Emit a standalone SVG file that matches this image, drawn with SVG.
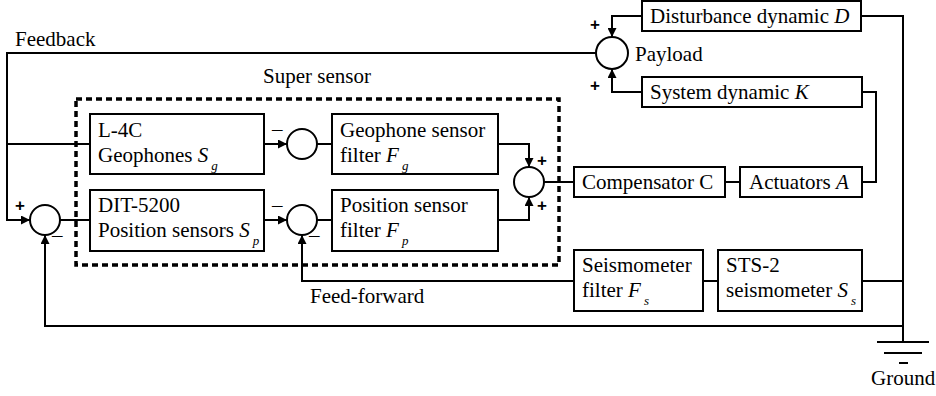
<svg xmlns="http://www.w3.org/2000/svg" width="936" height="396" viewBox="0 0 936 396">
<defs>
<marker id="ah" viewBox="0 0 10 10" refX="10" refY="5" markerWidth="9" markerHeight="9" markerUnits="userSpaceOnUse" orient="auto">
<path d="M0,0 L10,5 L0,10 Z" fill="#000"/>
</marker>
</defs>
<style>
.b{fill:#fff;stroke:#000;stroke-width:2}
.c{fill:#fff;stroke:#000;stroke-width:2}
.w{fill:none;stroke:#000;stroke-width:2}
.a{fill:none;stroke:#000;stroke-width:2;marker-end:url(#ah)}
.t{font-family:'Liberation Serif','DejaVu Serif',serif;font-size:21px;fill:#000}
.i{font-style:italic}
.s{font-size:13px;font-style:italic}
.p{font-family:'Liberation Sans',sans-serif;font-size:17px;font-weight:bold}
</style>
<rect width="936" height="396" fill="#fff"/>
<g id="connectors">
<path class="a" d="M596,53 H7 V220 H30"/>
<path class="w" d="M7,144 H90"/>
<path class="w" d="M60,220 H90"/>
<path class="a" d="M264,144 H287"/>
<path class="w" d="M317,144 H332"/>
<path class="a" d="M264,220 H287"/>
<path class="w" d="M317,220 H332"/>
<path class="a" d="M498,144 H529 V167"/>
<path class="a" d="M498,220 H529 V197"/>
<path class="w" d="M544,182 H574"/>
<path class="w" d="M725,182 H740"/>
<path class="w" d="M862,182 H876 V92 H862"/>
<path class="a" d="M642,92 H612 V69"/>
<path class="a" d="M642,16 H612 V37"/>
<path class="w" d="M861,16 H903 V342"/>
<path class="a" d="M574,281 H302 V235"/>
<path class="w" d="M703,281 H718"/>
<path class="w" d="M862,281 H903"/>
<path class="a" d="M903,326 H45 V235"/>
<path class="w" d="M877,342 H929 M884,353 H922 M899,363 H908"/>
</g>
<g class="t" font-family="Liberation Serif, DejaVu Serif, serif">
<g id="supersensor">
<rect x="76" y="99" width="483" height="166" fill="none" stroke="#000" stroke-width="3.5" stroke-dasharray="6 4"/>
<text x="263" y="83">Super sensor</text>
</g>
<g id="sumLeft"><circle class="c" cx="45" cy="220" r="15"/><text class="p" x="15" y="211">+</text><text x="52" y="242">–</text></g>
<g id="sumGeo"><circle class="c" cx="302" cy="144" r="15"/><text x="272" y="136">–</text></g>
<g id="sumPos"><circle class="c" cx="302" cy="220" r="15"/><text x="272" y="212">–</text><text x="309" y="242">–</text></g>
<g id="sumSS"><circle class="c" cx="529" cy="182" r="15"/><text class="p" x="537" y="166">+</text><text class="p" x="537" y="211">+</text></g>
<g id="payload"><circle class="c" cx="612" cy="53" r="16"/><text x="635" y="61">Payload</text><text class="p" x="590" y="30">+</text><text class="p" x="590" y="91">+</text></g>
<g id="geophones"><rect class="b" x="90" y="114" width="174" height="60"/><text x="98" y="137">L-4C</text><text x="98" y="162">Geophones <tspan class="i">S</tspan><tspan class="s" dx="3" dy="8">g</tspan></text></g>
<g id="dit"><rect class="b" x="90" y="190" width="174" height="61"/><text x="98" y="212">DIT-5200</text><text x="98" y="237">Position sensors <tspan class="i">S</tspan><tspan class="s" dx="3" dy="8">p</tspan></text></g>
<g id="geofilter"><rect class="b" x="332" y="114" width="166" height="60"/><text x="340" y="137">Geophone sensor</text><text x="340" y="162">filter <tspan class="i">F</tspan><tspan class="s" dx="3" dy="8">g</tspan></text></g>
<g id="posfilter"><rect class="b" x="332" y="190" width="166" height="61"/><text x="340" y="212">Position sensor</text><text x="340" y="237">filter <tspan class="i">F</tspan><tspan class="s" dx="3" dy="8">p</tspan></text></g>
<g id="compensator"><rect class="b" x="574" y="167" width="151" height="30"/><text x="582" y="189">Compensator C</text></g>
<g id="actuators"><rect class="b" x="740" y="167" width="122" height="30"/><text x="749" y="189">Actuators <tspan class="i">A</tspan></text></g>
<g id="systemK"><rect class="b" x="642" y="77" width="220" height="30"/><text x="650" y="99">System dynamic <tspan class="i">K</tspan></text></g>
<g id="disturbance"><rect class="b" x="642" y="1" width="219" height="30"/><text x="650" y="23">Disturbance dynamic <tspan class="i">D</tspan></text></g>
<g id="seisfilter"><rect class="b" x="574" y="250" width="129" height="61"/><text x="582" y="272">Seismometer</text><text x="582" y="297">filter <tspan class="i">F</tspan><tspan class="s" dx="3" dy="8">s</tspan></text></g>
<g id="sts2"><rect class="b" x="718" y="250" width="144" height="61"/><text x="726" y="272">STS-2</text><text x="726" y="297">seismometer <tspan class="i">S</tspan><tspan class="s" dx="3" dy="8">s</tspan></text></g>
<g id="labels"><text x="15" y="46">Feedback</text><text x="310" y="303">Feed-forward</text><text x="871" y="385">Ground</text></g>
</g>
</svg>
